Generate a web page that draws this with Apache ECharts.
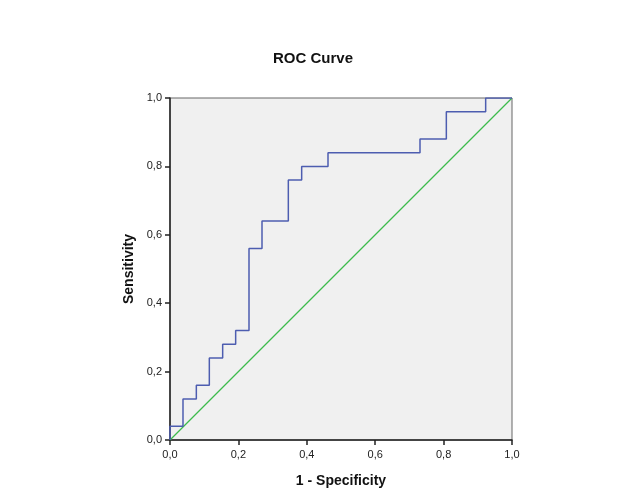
<!DOCTYPE html>
<html><head><meta charset="utf-8">
<script src="https://cdn.jsdelivr.net/npm/echarts@6/dist/echarts.min.js"></script>
<style>html,body{margin:0;padding:0;background:#fff}#c{width:626px;height:502px}</style>
</head><body><div id="c"></div>
<script>
// ROC curve corner points (1 - Specificity, Sensitivity)
const fpr = [0,0,0.038,0.038,0.077,0.077,0.115,0.115,0.154,0.154,0.192,0.192,0.231,0.231,0.269,0.269,0.346,0.346,0.385,0.385,0.462,0.462,0.731,0.731,0.808,0.808,0.923,0.923,1];
const tpr = [0,0.04,0.04,0.12,0.12,0.16,0.16,0.24,0.24,0.28,0.28,0.32,0.32,0.56,0.56,0.64,0.64,0.76,0.76,0.80,0.80,0.84,0.84,0.88,0.88,0.96,0.96,1,1];
const refX = [0,1];
const refY = [0,1];
const tickLabels = ['0,0','0,2','0,4','0,6','0,8','1,0'];

const chart = echarts.init(document.getElementById('c'));
const fmt = v => tickLabels[Math.round(v*5)];
const axisCommon = {
  type:'value', min:0, max:1, interval:0.2,
  axisLine:{show:true, lineStyle:{color:'#222', width:1.5}},
  axisTick:{show:true, length:5, lineStyle:{color:'#222', width:1.5}},
  axisLabel:{formatter:fmt, color:'#222', fontSize:11, fontFamily:'Liberation Sans, Arial'},
  splitLine:{show:false},
  nameTextStyle:{fontWeight:'bold', fontSize:14, color:'#111', fontFamily:'Liberation Sans, Arial'}
};
chart.setOption({
  animation:false,
  title:{text:'ROC Curve', left:'center', top:46, textStyle:{fontSize:15, fontWeight:'bold', color:'#111', fontFamily:'Liberation Sans, Arial'}},
  grid:{left:170, top:98, width:342, height:342, show:true, backgroundColor:'#f0f0f0', borderColor:'#666', borderWidth:1},
  xAxis:Object.assign({}, axisCommon, {name:'1 - Specificity', nameLocation:'middle', nameGap:34, axisLabel:Object.assign({}, axisCommon.axisLabel, {margin:9})}),
  yAxis:Object.assign({}, axisCommon, {name:'Sensitivity', nameLocation:'middle', nameGap:34, nameRotate:90}),
  series:[
    {type:'line', data:refX.map((x,i)=>[x,refY[i]]), symbol:'none', lineStyle:{color:'#3dba4c', width:1.3}, z:2},
    {type:'line', data:fpr.map((x,i)=>[x,tpr[i]]), symbol:'none', lineStyle:{color:'#4d5db0', width:1.5}, z:3}
  ]
});
</script></body></html>
